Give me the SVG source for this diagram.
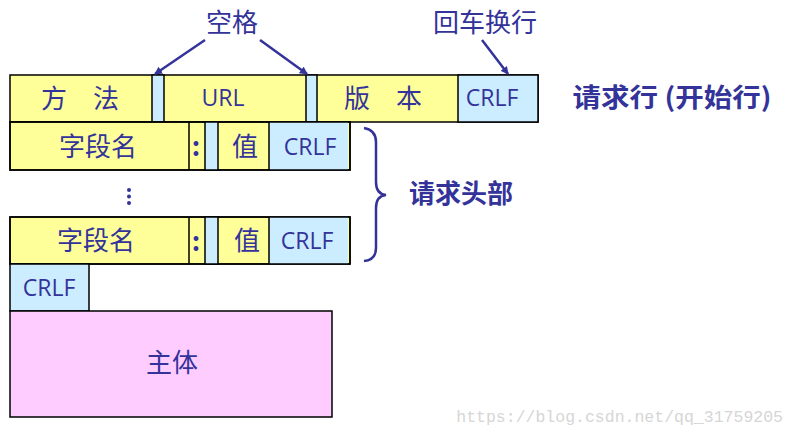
<svg xmlns="http://www.w3.org/2000/svg" width="794" height="435" viewBox="0 0 794 435">
<style>
.y{fill:#FFFF99;stroke:#000;stroke-width:1.5}
.b{fill:#CCECFF;stroke:#000;stroke-width:1.5}
.p{fill:#FFCCFF;stroke:#000;stroke-width:1.5}
.ln{stroke:#000;stroke-width:1.5;fill:none}
.cj{font-family:"Noto Sans CJK SC","Noto Sans",sans-serif;font-size:26px;fill:#333399;text-anchor:middle;dominant-baseline:central}
.en{font-family:"Open Sans","Liberation Sans",sans-serif;font-size:23px;fill:#333399;text-anchor:middle;dominant-baseline:central}
.bd{font-weight:bold}
.ar{stroke:#333399;stroke-width:2.5;fill:none}
.wm{font-family:"Liberation Mono",monospace;font-size:16.5px;fill:#d6d6d6;text-anchor:end}
</style>
<defs>
<marker id="ah" markerWidth="8" markerHeight="8" refX="7" refY="4" orient="auto" markerUnits="userSpaceOnUse" viewBox="0 0 8 8">
<path d="M0,0 L8,4 L0,8 z" fill="#333399"/>
</marker>
</defs>

<g id="request-line">
<rect class="y" x="10" y="75" width="528" height="47"/>
<rect class="b" x="152" y="75" width="12" height="47"/>
<rect class="b" x="306" y="75" width="11" height="47"/>
<rect class="b" x="458" y="75" width="80" height="47"/>
<text class="cj" x="80" y="96">方　法</text>
<text class="en" x="223" y="97">URL</text>
<text class="cj" x="383" y="96">版　本</text>
<text class="en" x="492" y="97">CRLF</text>
</g>

<g id="header-1">
<rect class="y" x="10" y="122" width="340" height="48"/>
<rect x="269" y="122" width="79" height="48" fill="#CCECFF"/>
<rect class="ln" x="10" y="122" width="340" height="48"/>
<rect class="b" x="205" y="122" width="13" height="48"/>
<line class="ln" x1="189" y1="122" x2="189" y2="170"/>
<line class="ln" x1="269" y1="122" x2="269" y2="170"/>
<text class="cj" x="98" y="144">字段名</text>
<text class="cj bd" x="196" y="144">:</text>
<text class="cj" x="245" y="144">值</text>
<text class="en" x="310" y="146">CRLF</text>
</g>

<g id="ellipsis">
<circle cx="129" cy="190" r="2" fill="#333399"/>
<circle cx="129" cy="196.5" r="2" fill="#333399"/>
<circle cx="129" cy="203" r="2" fill="#333399"/>
</g>

<g id="header-n">
<rect class="y" x="10" y="217" width="340" height="47"/>
<rect x="269" y="217" width="79" height="47" fill="#CCECFF"/>
<rect class="ln" x="10" y="217" width="340" height="47"/>
<rect class="b" x="205" y="217" width="13" height="47"/>
<line class="ln" x1="189" y1="217" x2="189" y2="264"/>
<line class="ln" x1="269" y1="217" x2="269" y2="264"/>
<text class="cj" x="96" y="238">字段名</text>
<text class="cj bd" x="196" y="239">:</text>
<text class="cj" x="247" y="238">值</text>
<text class="en" x="307" y="240">CRLF</text>
</g>

<g id="blank-line">
<rect class="b" x="10" y="264" width="79" height="47"/>
<text class="en" x="49" y="287">CRLF</text>
</g>

<g id="body">
<rect class="p" x="10" y="311" width="322" height="106"/>
<text class="cj" x="172" y="360">主体</text>
</g>

<g id="label-space">
<text class="cj" x="232" y="20">空格</text>
</g>
<g id="label-crlf">
<text class="cj" x="485" y="20">回车换行</text>
</g>
<g id="label-request-line">
<text class="cj bd" x="672" y="95" font-size="27" textLength="199" lengthAdjust="spacingAndGlyphs">请求行 (开始行)</text>
</g>
<g id="label-headers">
<text class="cj bd" x="461" y="191" font-size="27">请求头部</text>
</g>

<g id="connectors">
<line class="ar" x1="205" y1="40" x2="155" y2="74" marker-end="url(#ah)"/>
<line class="ar" x1="260" y1="40" x2="307" y2="74" marker-end="url(#ah)"/>
<line class="ar" x1="482" y1="40" x2="508" y2="74" marker-end="url(#ah)"/>
<path class="ar" stroke-width="2" d="M364,128 Q376,130 376,142 L376,182 Q376,194 386,195 Q376,196 376,208 L376,248 Q376,260 364,261"/>
</g>

<text class="wm" x="783" y="422">https://blog.csdn.net/qq_31759205</text>
</svg>
